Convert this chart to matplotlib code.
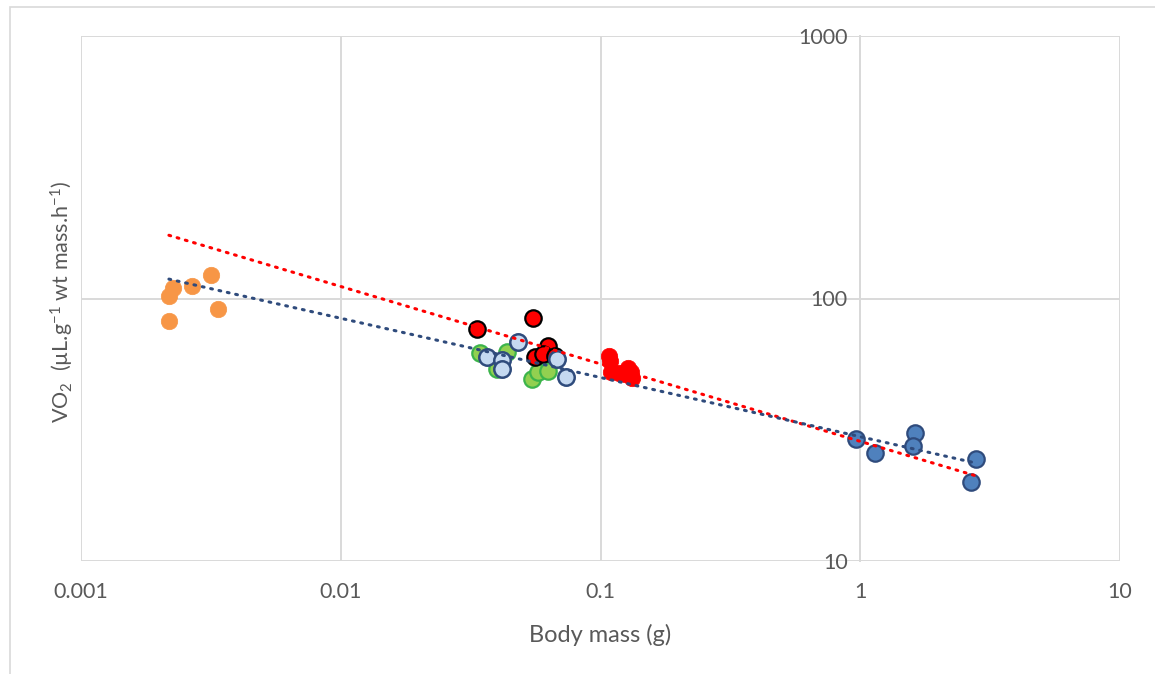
import numpy as np
import matplotlib
matplotlib.use("Agg")
import matplotlib.pyplot as plt
from matplotlib.patches import Rectangle

plt.rcParams['font.family'] = ['Lato', 'DejaVu Sans']
plt.rcParams['mathtext.default'] = 'regular'

# body mass (g) and VO2 per group
orange_x = [0.00218, 0.00226, 0.00267, 0.00317, 0.00337, 0.00218]
orange_y = [102, 110, 112, 123, 91, 82]

green_x = [0.0344, 0.0437, 0.0400, 0.0545, 0.0575, 0.0628]
green_y = [62.0, 62.6, 53.9, 49.4, 52.5, 52.9]

redblack_x = [0.0335, 0.0550, 0.0628, 0.0559, 0.0601, 0.0668]
redblack_y = [76.5, 84.3, 65.9, 59.9, 61.4, 60.4]

lightblue_x = [0.0366, 0.0418, 0.0418, 0.0481, 0.0680, 0.0737]
lightblue_y = [59.9, 58.3, 53.9, 68.3, 58.8, 50.2]

red_x = [0.1078, 0.1088, 0.1098, 0.1178, 0.1243, 0.1276, 0.1311, 0.1323]
red_y = [60.4, 57.8, 52.5, 52.0, 51.6, 54.4, 52.5, 49.8]

blue_x = [0.963, 1.140, 1.625, 1.596, 2.790, 2.669]
blue_y = [29.2, 25.8, 30.7, 27.4, 24.5, 20.0]

# power trendlines y = a * x^b
red_trend = (28.56, -0.295)
blue_trend = (29.75, -0.2256)

x_ticks = [0.001, 0.01, 0.1, 1, 10]
x_labels = ["0.001", "0.01", "0.1", "1", "10"]
y_ticks = [10, 100, 1000]
y_labels = ["10", "100", "1000"]

grid_c = '#d9d9d9'
text_c = '#595959'

fig = plt.figure(figsize=(11.55, 6.74), dpi=100)
ax = fig.add_axes([81 / 1155, 1 - 561 / 674, (1120 - 81) / 1155, (561 - 36) / 674])
ax.set_xscale('log')
ax.set_yscale('log')
ax.set_xlim(0.001, 10)
ax.set_ylim(10, 1000)

# outer chart border
fig.patches.append(Rectangle((10 / 1155, -0.5), 2, 1.5 - 7 / 674, transform=fig.transFigure,
                             fill=False, edgecolor=grid_c, lw=1.2))

ms = 140
ax.scatter(orange_x, orange_y, s=ms, c='#f79646', edgecolors='#f79646', lw=0.5, zorder=3)
ax.scatter(green_x, green_y, s=ms, c='#92d050', edgecolors='#3cb44b', lw=1.6, zorder=3)
ax.scatter(redblack_x, redblack_y, s=ms, c='#ff0000', edgecolors='black', lw=1.6, zorder=3)
ax.scatter(lightblue_x, lightblue_y, s=ms, c='#c5d9f1', edgecolors='#2f4b7c', lw=1.8, zorder=3)
ax.scatter(red_x, red_y, s=ms, c='#ff0000', edgecolors='#ff0000', lw=0.5, zorder=3)
ax.scatter(blue_x, blue_y, s=ms, c='#4f81bd', edgecolors='#2f4b7c', lw=1.6, zorder=3)

all_x = orange_x + green_x + redblack_x + lightblue_x + red_x + blue_x
xt = np.geomspace(min(all_x), max(all_x), 100)
for (a, b), col in [(red_trend, '#ff0000'), (blue_trend, '#2f4b7c')]:
    ax.plot(xt, a * xt ** b, color=col, lw=2.2, linestyle=(0, (0.6, 2.2)),
            dash_capstyle='round', zorder=4)

ax.set_xticks(x_ticks, x_labels)
ax.set_yticks(y_ticks, y_labels)
ax.minorticks_off()
ax.grid(True, which='major', color=grid_c, lw=1.4)
ax.set_axisbelow(True)
for s in ['top', 'right', 'bottom']:
    ax.spines[s].set_visible(False)
ax.spines['left'].set_position(('data', 1))
ax.spines['left'].set_color(grid_c)
ax.spines['left'].set_linewidth(1.4)
ax.tick_params(axis='both', length=0, labelsize=15.5, labelcolor=text_c)
ax.tick_params(axis='x', pad=15)
ax.tick_params(axis='y', pad=9)

ax.set_xlabel('Body mass (g)', fontsize=17, color=text_c, labelpad=16)
fig.text(62 / 1155, 1 - 302 / 674, 'VO$_2$  (µL.g$^{-1}$ wt mass.h$^{-1}$)', rotation=90,
         ha='center', va='center', fontsize=15.5, color=text_c)

fig.savefig('out.png', dpi=100)
